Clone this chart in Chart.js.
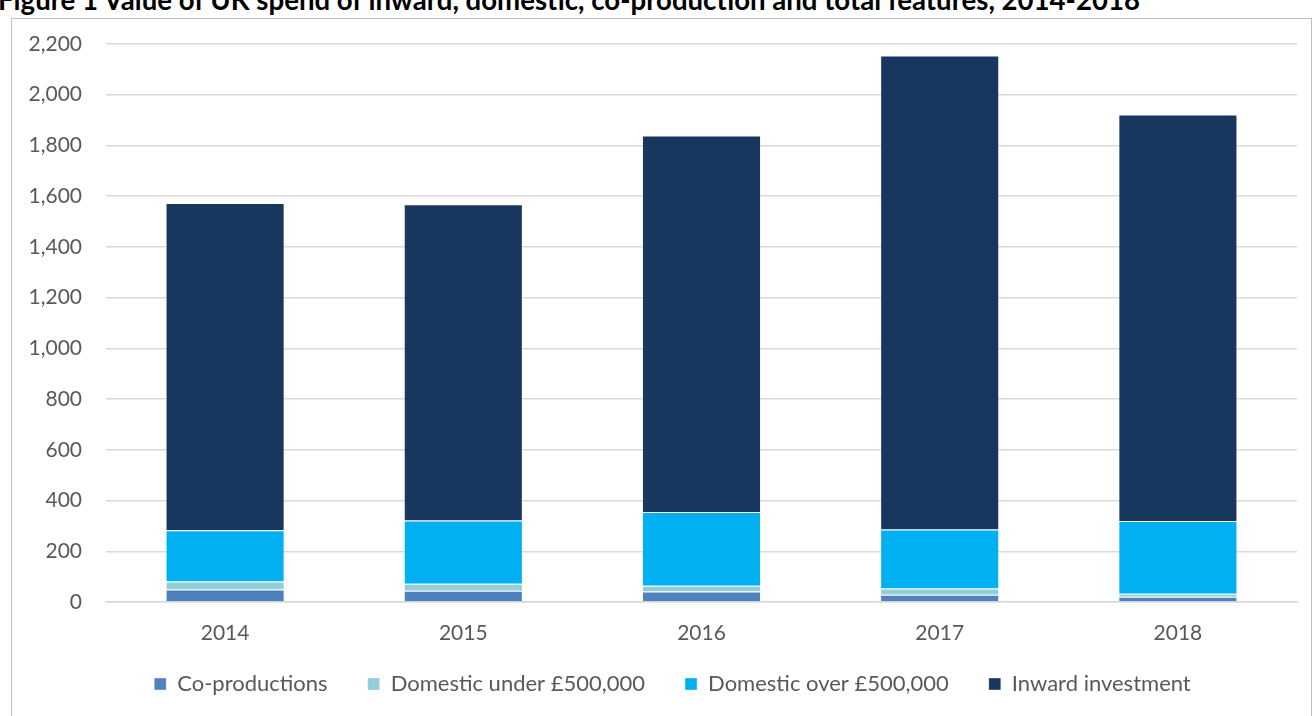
<html>
  <head>
    <meta charset="utf-8" />
    <title>UK spend on features 2014-2018</title>
    <style>
      body {
        margin: 0;
        padding: 0;
        background: #ffffff;
        overflow: hidden;
        width: 1313px;
        height: 716px;
        position: relative;
        font-family: Lato, "Open Sans", sans-serif;
      }

      #title {
        position: absolute;
        left: -2px;
        top: -17px;
        white-space: nowrap;
        font-weight: bold;
        font-size: 27.6px;
        color: #000000;
      }

      #box {
        position: absolute;
        left: 11px;
        top: 18px;
        width: 1299px;
        height: 720px;
        border: 1px solid #bfbfbf;
      }

      canvas {
        position: absolute;
        left: 0;
        top: 0;
      }
    </style>
    <script src="https://cdn.jsdelivr.net/npm/chart.js"></script>
  </head>
  <body>
    <div id="title">Figure 1 Value of UK spend of inward, domestic, co-production and total features, 2014-2018</div>
    <div id="box">
      <canvas id="spendChart" width="1299" height="697"></canvas>
    </div>
    <script>
      const years = ["2014", "2015", "2016", "2017", "2018"];

      const coProductions = [49, 44, 41, 29, 21];
      const domesticUnder = [32, 28, 23, 24, 12];
      const domesticOver = [202, 249, 291, 233, 286];
      const inwardInvestment = [1290, 1247, 1484, 1869, 1603];

      const tickFont = { family: "Lato", size: 21 };
      const legendFont = { family: "Lato", size: 22 };
      const textColor = "#595959";

      const makeSet = (label, data, colour) => ({
        label: label,
        data: data,
        backgroundColor: colour,
        borderColor: "rgba(255, 255, 255, 0.35)",
        borderWidth: 1,
        barPercentage: 0.5,
        categoryPercentage: 1,
      });

      // legend spacing is wide, so pin its height instead of letting padding grow it
      const legendHeight = {
        id: "legendHeight",
        beforeInit(chart) {
          const origFit = chart.legend.fit;
          chart.legend.fit = function () {
            origFit.call(this);
            this.height = 83;
          };
        },
      };

      // tick labels sit outside the (pinned) axis boxes, don't clip them
      const noLabelClip = (scale) => {
        scale._computeLabelArea = () => undefined;
      };

      const ctx = document.getElementById("spendChart").getContext("2d");
      const spendChart = new Chart(ctx, {
        type: "bar",
        data: {
          labels: years,
          datasets: [
            makeSet("Co-productions", coProductions, "#4f81bd"),
            makeSet("Domestic under £500,000", domesticUnder, "#92cddc"),
            makeSet("Domestic over £500,000", domesticOver, "#00b0f0"),
            makeSet("Inward investment", inwardInvestment, "#17375e"),
          ],
        },
        options: {
          responsive: false,
          animation: false,
          layout: {
            padding: { left: 36, right: 14, top: 25, bottom: 0 },
          },
          plugins: {
            tooltip: { enabled: false },
            legend: {
              position: "bottom",
              labels: {
                boxWidth: 12,
                boxHeight: 12,
                padding: 40,
                color: textColor,
                font: legendFont,
              },
            },
          },
          scales: {
            x: {
              stacked: true,
              grid: { display: false, drawTicks: false },
              border: { color: "#d9d9d9", width: 1.5 },
              ticks: { color: textColor, font: tickFont, padding: 19 },
              afterFit: (scale) => {
                scale.height = 31;
                noLabelClip(scale);
              },
            },
            y: {
              stacked: true,
              min: 0,
              max: 2200,
              grid: {
                color: "#d9d9d9",
                lineWidth: 1.5,
                drawTicks: true,
                tickLength: 24,
                tickColor: "rgba(0, 0, 0, 0)",
              },
              border: { display: false },
              ticks: {
                stepSize: 200,
                color: textColor,
                font: tickFont,
                padding: 0,
                callback: (value) => value.toLocaleString("en-GB"),
              },
              afterFit: (scale) => {
                scale.width = 58;
                noLabelClip(scale);
              },
            },
          },
        },
        plugins: [legendHeight],
      });
    </script>
  </body>
</html>
